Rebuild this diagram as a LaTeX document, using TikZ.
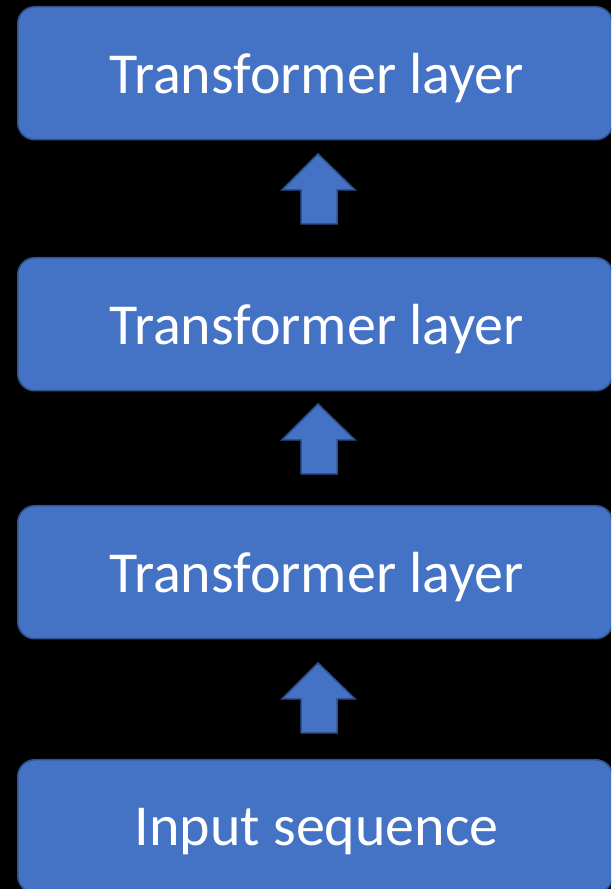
\documentclass[tikz,border=0pt]{standalone}
\usepackage{fontspec}
\setmainfont{Carlito}
\definecolor{boxfill}{HTML}{4472C4}
\definecolor{boxline}{HTML}{2F528F}
\tikzset{
  layerbox/.style={draw=boxline, line width=1.5pt, fill=boxfill, rounded corners=17pt,
    minimum width=595pt, minimum height=133pt, inner sep=0pt, anchor=north west},
  layertext/.style={text=white, font=\fontsize{58}{60}\selectfont, inner sep=0pt,
    xshift=1.5pt, yshift=-5pt},
  blockarrow/.style={draw=boxline, line width=1.5pt, fill=boxfill, line join=miter},
}
\begin{document}
\begin{tikzpicture}[x=1pt,y=1pt]
\fill[black] (0,0) rectangle (611,889);
\useasboundingbox (0,0) rectangle (611,889);
\clip (0,0) rectangle (611,889);
\node[layerbox, label={[layertext]center:Transformer layer}] (l3) at (17,883) {};
\node[layerbox, label={[layertext]center:Transformer layer}] (l2) at (17,632) {};
\node[layerbox, label={[layertext]center:Transformer layer}] (l1) at (17,384) {};
\node[layerbox, label={[layertext]center:Input sequence}] (in) at (17,130) {};
\foreach \ty in {735,485,226}{
  \draw[blockarrow] (318,\ty) -- (355,\ty-36) -- (337,\ty-36) -- (337,\ty-70)
     -- (301,\ty-70) -- (301,\ty-36) -- (282,\ty-36) -- cycle;
}
\end{tikzpicture}
\end{document}
